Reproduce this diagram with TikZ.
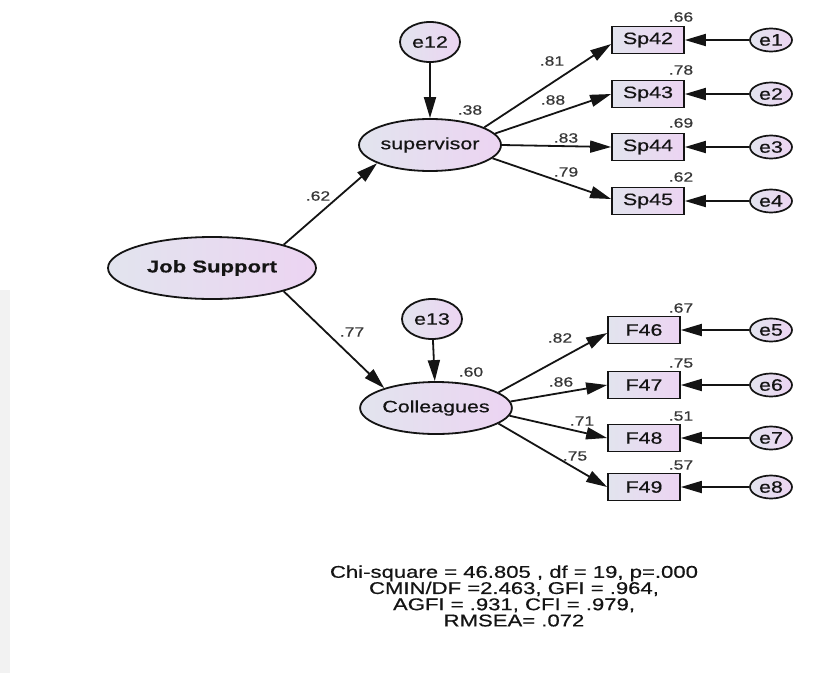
\documentclass[tikz,border=0pt]{standalone}
\usepackage{fontspec}
\setmainfont{Liberation Sans}[FakeStretch=1.3,FakeBold=0.5]
\usetikzlibrary{arrows.meta,shapes.geometric}
\definecolor{gl}{RGB}{226,228,238}
\definecolor{gr}{RGB}{236,212,242}
\definecolor{ink}{RGB}{20,20,20}
\tikzset{
  lat/.style={ellipse,draw=ink,line width=1.8pt,left color=gl,right color=gr,inner sep=0pt,font=\fontsize{16.5}{16.5}\selectfont,text=ink},
  err/.style={ellipse,draw=ink,line width=1.7pt,left color=gl,right color=gr,inner sep=0pt,minimum width=42pt,minimum height=23pt,font=\fontsize{16.5}{16.5}\selectfont,text=ink},
  obs/.style={rectangle,draw=ink,line width=1.7pt,left color=gl,right color=gr,inner sep=0pt,minimum width=72pt,minimum height=27pt,font=\fontsize{16.5}{16.5}\selectfont,text=ink},
  num/.style={font=\fontsize{13.5}{13.5}\selectfont,text=ink!85,inner sep=0pt},
  path/.style={draw=ink,line width=1.8pt,-{Triangle[length=21pt,width=12pt]}}
}
\begin{document}
\begin{tikzpicture}[x=1pt,y=-1pt]
\useasboundingbox (0,0) rectangle (823,673);
\fill[white] (0,0) rectangle (823,673);
\fill[black!5] (0,290) rectangle (10,673);
% latent variables
\node[lat,minimum width=208pt,minimum height=62pt,font=\fontsize{17}{17}\selectfont\bfseries] (js) at (212,268) {Job Support};
\node[lat,minimum width=142pt,minimum height=52pt] (sup) at (430,145) {supervisor};
\node[lat,minimum width=144pt,minimum height=52pt] (col) at (436,408) {Colleagues};
\node[lat,minimum width=60pt,minimum height=40pt] (e12) at (430,42) {e12};
\node[lat,minimum width=60pt,minimum height=40pt] (e13) at (432,319) {e13};
% observed
\node[obs] (sp42) at (648,40) {Sp42};
\node[obs] (sp43) at (648,94) {Sp43};
\node[obs] (sp44) at (648,147) {Sp44};
\node[obs] (sp45) at (648,201) {Sp45};
\node[obs] (f46) at (644,330) {F46};
\node[obs] (f47) at (644,385) {F47};
\node[obs] (f48) at (644,438) {F48};
\node[obs] (f49) at (644,487) {F49};
% errors
\node[err] (e1) at (771,40) {e1};
\node[err] (e2) at (771,94) {e2};
\node[err] (e3) at (771,147) {e3};
\node[err] (e4) at (771,201) {e4};
\node[err] (e5) at (771,330) {e5};
\node[err] (e6) at (771,385) {e6};
\node[err] (e7) at (771,438) {e7};
\node[err] (e8) at (771,487) {e8};
% paths
\draw[path] (js.18) -- (sup.199);
\draw[path] (js.-18) -- (col.159);
\draw[path] (e12) -- (sup);
\draw[path] (e13) -- (col);
\draw[path] (sup.18) -- ([yshift=-4pt]sp42.west);
\draw[path] (sup.10) -- (sp43.west);
\draw[path] (sup.east) -- (sp44.west);
\draw[path] (sup.-12) -- ([yshift=2pt]sp45.west);
\draw[path] (col.14) -- ([yshift=-3pt]f46.west);
\draw[path] (col.5) -- (f47.west);
\draw[path] (col.-6) -- (f48.west);
\draw[path] (col.-14) -- (f49.west);
\foreach \e/\o in {e1/sp42,e2/sp43,e3/sp44,e4/sp45,e5/f46,e6/f47,e7/f48,e8/f49}
  \draw[path] (\e) -- (\o);
% estimates
\node[num] (n62) at (318,196) {.62};
\node[num] (n77) at (352,332) {.77};
\node[num] (n38) at (470,110) {.38};
\node[num] (n60) at (471,372) {.60};
\node[num] (n81) at (552,61) {.81};
\node[num] (n88) at (553,100) {.88};
\node[num] (n83) at (566,138) {.83};
\node[num] (n79) at (566,172) {.79};
\node[num] (n82) at (560,338) {.82};
\node[num] (n86) at (561,382) {.86};
\node[num] (n71) at (582,421) {.71};
\node[num] (n75p) at (575,456) {.75};
\node[num] (r66) at (681,17) {.66};
\node[num] (r78) at (681,70) {.78};
\node[num] (r69) at (681,123) {.69};
\node[num] (r62) at (681,177) {.62};
\node[num] (r67) at (681,308) {.67};
\node[num] (r75) at (681,363) {.75};
\node[num] (r51) at (681,416) {.51};
\node[num] (r57) at (681,465) {.57};
% fit
\node[align=center,inner sep=0pt,text=ink,font=\fontsize{17}{16.2}\selectfont] (fit) at (514,596)
 {Chi-square = 46.805 , df = 19, p=.000\\CMIN/DF =2.463, GFI = .964,\\AGFI = .931, CFI = .979,\\RMSEA= .072};
\end{tikzpicture}
\end{document}
